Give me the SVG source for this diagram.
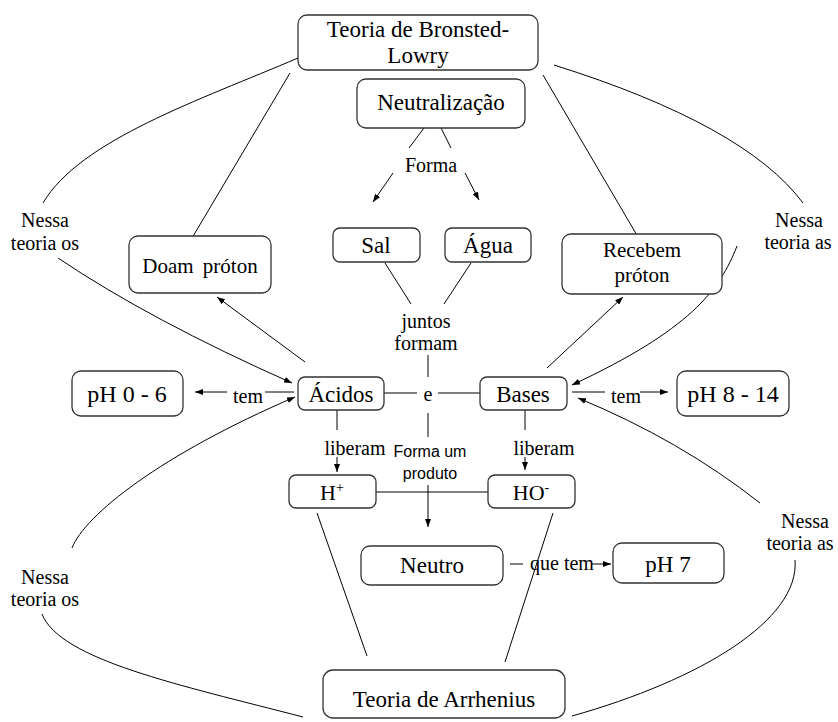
<svg xmlns="http://www.w3.org/2000/svg" width="838" height="722" viewBox="0 0 838 722">
<style>
.box{fill:#fff;stroke:#333;stroke-width:1.3}
.t{font-family:"Liberation Serif","Times New Roman",serif;fill:#000;text-anchor:middle}
.n{font-size:23px}
.l{font-size:20px}
.s{font-family:"Liberation Sans",Arial,sans-serif;font-size:16px;fill:#000;text-anchor:middle}
.c{fill:none;stroke:#000;stroke-width:1}
.a{marker-end:url(#ah)}
</style>
<defs>
<marker id="ah" markerUnits="userSpaceOnUse" markerWidth="8" markerHeight="6" refX="8" refY="3" orient="auto">
<path d="M0,0 L8,3 L0,6 z" fill="#000"/>
</marker>
</defs>
<rect width="838" height="722" fill="#fff"/>
<g id="connectors">
<path class="c" d="M298 58 C200 100 80 140 43 203"/>
<path class="c a" d="M58 258 Q150 320 292 383"/>
<line class="c" x1="290" y1="73" x2="192" y2="238"/>
<line class="c a" x1="305" y1="362" x2="217" y2="297"/>
<line class="c" x1="543" y1="75" x2="638" y2="237"/>
<path class="c" d="M554 65 Q745 125 803 203"/>
<path class="c a" d="M737 246 C720 290 690 330 572 385"/>
<line class="c a" x1="547" y1="368" x2="623" y2="297"/>
<path class="c a" d="M760 503 Q680 440 578 398"/>
<path class="c" d="M795 560 C800 620 700 680 572 716"/>
<path class="c a" d="M72 548 C85 515 160 455 295 397"/>
<path class="c" d="M42 614 C60 660 180 685 303 717"/>
<line class="c" x1="317" y1="513" x2="367" y2="656"/>
<line class="c" x1="553" y1="513" x2="505" y2="662"/>
<line class="c" x1="424" y1="128" x2="409" y2="148"/>
<line class="c" x1="441" y1="128" x2="451" y2="148"/>
<line class="c a" x1="393" y1="173" x2="373" y2="202"/>
<line class="c a" x1="465" y1="173" x2="479" y2="200"/>
<line class="c" x1="385" y1="263" x2="411" y2="304"/>
<line class="c" x1="471" y1="263" x2="444" y2="304"/>
<line class="c" x1="428" y1="355" x2="428" y2="377"/>
<line class="c" x1="384" y1="393" x2="417" y2="393"/>
<line class="c" x1="438" y1="393" x2="480" y2="393"/>
<line class="c" x1="428" y1="413" x2="428" y2="437"/>
<line class="c a" x1="428" y1="485" x2="428" y2="527"/>
<line class="c" x1="337" y1="410" x2="337" y2="430"/>
<line class="c a" x1="337" y1="457" x2="337" y2="472"/>
<line class="c" x1="525" y1="410" x2="525" y2="430"/>
<line class="c a" x1="525" y1="457" x2="525" y2="470"/>
<line class="c" x1="376" y1="492" x2="488" y2="492"/>
<line class="c" x1="294" y1="392" x2="265" y2="392"/>
<line class="c a" x1="227" y1="392" x2="195" y2="392"/>
<line class="c" x1="572" y1="392" x2="605" y2="392"/>
<line class="c a" x1="640" y1="392" x2="668" y2="392"/>
<line class="c" x1="510" y1="564" x2="523" y2="564"/>
<line class="c a" x1="592" y1="564" x2="611" y2="564"/>
</g>
<g id="labels">
<text class="t l" x="431" y="172">Forma</text>
<text class="t l" x="426" y="328">juntos</text>
<text class="t l" x="426" y="350">formam</text>
<text class="t l" x="428" y="401">e</text>
<text class="s" x="430" y="457">Forma um</text>
<text class="s" x="430" y="479">produto</text>
<text class="t l" x="355" y="455">liberam</text>
<text class="t l" x="544" y="455">liberam</text>
<text class="t l" x="248" y="403">tem</text>
<text class="t l" x="626" y="403">tem</text>
<text class="t l" x="562" y="570">que tem</text>
<text class="t l" x="45" y="227">Nessa</text>
<text class="t l" x="45" y="250">teoria os</text>
<text class="t l" x="799" y="227">Nessa</text>
<text class="t l" x="798" y="249">teoria as</text>
<text class="t l" x="45" y="584">Nessa</text>
<text class="t l" x="45" y="606">teoria os</text>
<text class="t l" x="805" y="528">Nessa</text>
<text class="t l" x="800" y="550">teoria as</text>
</g>
<g id="bronsted"><rect class="box" x="298" y="15" width="240" height="55" rx="9"/><text class="t n" x="418" y="37">Teoria de Bronsted-</text><text class="t n" x="418" y="63">Lowry</text></g>
<g id="neutralizacao"><rect class="box" x="357" y="79" width="168" height="49" rx="9"/><text class="t n" x="441" y="110">Neutralização</text></g>
<g id="sal"><rect class="box" x="333" y="228" width="87" height="34" rx="7"/><text class="t n" x="376" y="253">Sal</text></g>
<g id="agua"><rect class="box" x="445" y="228" width="86" height="34" rx="7"/><text class="t n" x="488" y="253">Água</text></g>
<g id="doam"><rect class="box" x="129" y="236" width="142" height="57" rx="9"/><text class="t" x="200" y="273" font-size="21" word-spacing="4">Doam próton</text></g>
<g id="recebem"><rect class="box" x="562" y="234" width="160" height="60" rx="9"/><text class="t" x="642" y="257" font-size="21">Recebem</text><text class="t" x="642" y="282" font-size="21">próton</text></g>
<g id="ph06"><rect class="box" x="72" y="371" width="111" height="45" rx="9"/><text class="t" x="127" y="402" font-size="24">pH 0 - 6</text></g>
<g id="acidos"><rect class="box" x="298" y="377" width="86" height="33" rx="7"/><text class="t n" x="341" y="402">Ácidos</text></g>
<g id="bases"><rect class="box" x="480" y="377" width="87" height="33" rx="7"/><text class="t n" x="523" y="402">Bases</text></g>
<g id="ph814"><rect class="box" x="677" y="371" width="112" height="45" rx="9"/><text class="t" x="733" y="402" font-size="24">pH 8 - 14</text></g>
<g id="hplus"><rect class="box" x="289" y="475" width="87" height="33" rx="7"/><text class="t" x="332" y="500" font-size="22">H<tspan font-size="14" dy="-8">+</tspan></text></g>
<g id="hominus"><rect class="box" x="488" y="475" width="87" height="33" rx="7"/><text class="t" x="531" y="500" font-size="22">HO<tspan font-size="14" dy="-8">-</tspan></text></g>
<g id="neutro"><rect class="box" x="361" y="546" width="142" height="39" rx="9"/><text class="t n" x="432" y="573">Neutro</text></g>
<g id="ph7"><rect class="box" x="613" y="543" width="111" height="40" rx="9"/><text class="t n" x="668" y="572">pH 7</text></g>
<g id="arrhenius"><rect class="box" x="323" y="670" width="242" height="48" rx="10"/><text class="t n" x="444" y="707">Teoria de Arrhenius</text></g>
</svg>
